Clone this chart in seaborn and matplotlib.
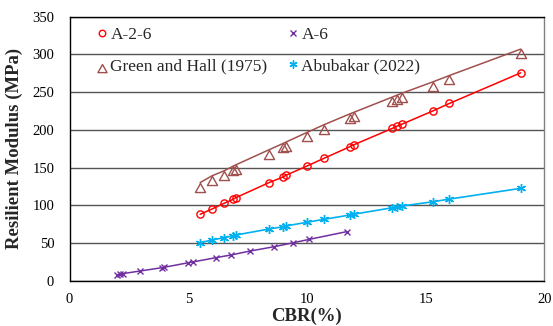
import matplotlib
matplotlib.use("Agg")
import matplotlib.pyplot as plt
import seaborn as sns
import pandas as pd
import numpy as np
from matplotlib.path import Path

# ---- data ----
cbr = [5.5, 6.0, 6.5, 6.9, 7.0, 8.4, 9.0, 9.1, 10.0, 10.7, 11.8, 12.0,
       13.6, 13.8, 14.0, 15.3, 16.0, 19.0]
mr_a26 = [88, 95, 102.5, 108, 110, 130, 137.5, 139.5, 152, 162, 177.5, 180.5,
          202, 205, 207.5, 225, 235, 275.5]
mr_green_hall = [130, 139, 145.5, 152, 153.5, 173.5, 182, 183.5, 196.5, 206.5,
                 221, 223.5, 243.5, 246, 248.5, 263.5, 272, 307]
mr_abubakar = [50.3, 54, 57, 59.6, 60.5, 68.5, 71.5, 72.5, 77.4, 81.3, 87, 88.3,
               96.7, 98, 99, 104.6, 108.2, 122.4]

cbr_a6 = [2.0, 2.13, 2.27, 2.97, 3.88, 3.98, 5.0, 5.19, 6.16, 6.79, 7.6, 8.61,
          9.42, 10.1, 11.67]
mr_a6 = [7.5, 8.5, 9.5, 12.8, 17.2, 17.7, 23.8, 24.8, 30.5, 34, 39.3, 45,
         50.3, 54.8, 65]

x_ticks = [0, 5, 10, 15, 20]
y_ticks = [0, 50, 100, 150, 200, 250, 300, 350]

sns.set_theme(style="white")
plt.rcParams['font.family'] = ['Liberation Serif', 'DejaVu Serif']

fig = plt.figure(figsize=(5.53, 3.26), dpi=100)
ax = fig.add_axes([0.1257, 0.139, 0.9846 - 0.1257, 0.949 - 0.139])

# triangle marker whose apex sits at the data point
tri = Path([(0, 0), (-0.9, -1.6), (0.9, -1.6), (0, 0)],
           [Path.MOVETO, Path.LINETO, Path.LINETO, Path.CLOSEPOLY])

df1 = pd.DataFrame({"CBR": cbr, "MR": mr_a26})
df2 = pd.DataFrame({"CBR": cbr_a6, "MR": mr_a6})
df3 = pd.DataFrame({"CBR": cbr, "MR": mr_green_hall})
df4 = pd.DataFrame({"CBR": cbr, "MR": mr_abubakar})

c_red = "#FF0000"
c_pur = "#7030A0"
c_brn = "#A0504D"
c_cyan = "#00B0F0"

sns.lineplot(data=df1, x="CBR", y="MR", ax=ax, color=c_red, lw=1.1,
             marker="o", markersize=5.2, markerfacecolor="none",
             markeredgecolor=c_red, markeredgewidth=1.0, estimator=None,
             sort=False, label="A-2-6")
sns.lineplot(data=df2, x="CBR", y="MR", ax=ax, color=c_pur, lw=1.1,
             marker="x", markersize=4.5, markeredgecolor=c_pur,
             markeredgewidth=1.0, estimator=None, sort=False, label="A-6")
sns.lineplot(data=df3, x="CBR", y="MR", ax=ax, color=c_brn, lw=1.1,
             marker=tri, markersize=13, markerfacecolor="none",
             markeredgecolor=c_brn, markeredgewidth=1.0, estimator=None,
             sort=False, label="Green and Hall (1975)")
sns.lineplot(data=df4, x="CBR", y="MR", ax=ax, color=c_cyan, lw=1.2,
             marker=(6, 2, 0), markersize=6.5, markeredgecolor=c_cyan,
             markeredgewidth=1.0, estimator=None, sort=False,
             label="Abubakar (2022)")

ax.set_xlim(0, 20)
ax.set_ylim(0, 350)
ax.set_xticks(x_ticks)
ax.set_yticks(y_ticks)
ax.yaxis.grid(True, color="#555555", lw=1.0)
ax.xaxis.grid(False)
ax.set_axisbelow(True)
for s in ["left", "bottom", "top"]:
    ax.spines[s].set_color("black")
    ax.spines[s].set_linewidth(1.0)
ax.spines["right"].set_color("#808080")
ax.spines["right"].set_linewidth(1.0)
ax.tick_params(axis="both", length=0, labelsize=10.5, colors="black")
ax.tick_params(axis="y", pad=11)
ax.tick_params(axis="x", pad=9)

ax.set_xlabel("CBR(%)", fontsize=13.5, fontweight="bold", labelpad=1)
ax.set_ylabel("Resilient Modulus (MPa)", fontsize=13.5, fontweight="bold",
              labelpad=7)

handles, labels = ax.get_legend_handles_labels()
hmap = dict(zip(labels, handles))
order = ["A-2-6", "Green and Hall (1975)", "A-6", "Abubakar (2022)"]
leg = ax.legend([hmap[k] for k in order], order, ncol=2, loc="upper left",
                bbox_to_anchor=(0.035, 1.0), frameon=False, fontsize=12.5,
                handlelength=0.6, handletextpad=0.2, columnspacing=1.15,
                markerscale=0.9, labelspacing=0.85, borderaxespad=0.2)
for h in leg.legend_handles:
    h.set_linestyle("none")

fig.savefig("out.png", dpi=100)
